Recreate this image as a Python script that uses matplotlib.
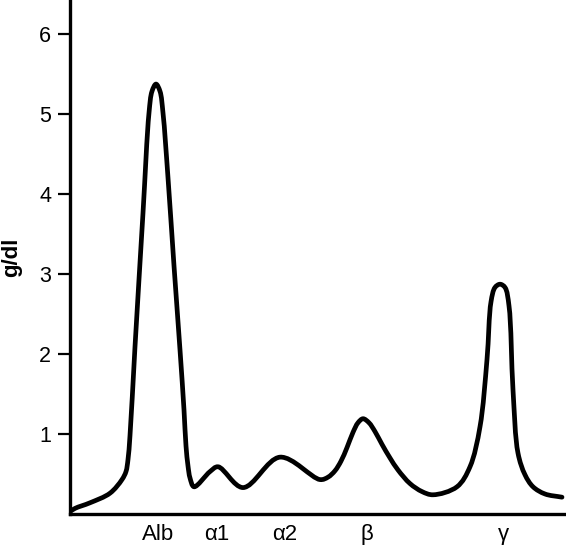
import numpy as np
import matplotlib
matplotlib.use("Agg")
import matplotlib.pyplot as plt
from matplotlib.path import Path
from matplotlib.patches import PathPatch

plt.rcParams['font.family'] = ['Liberation Sans', 'DejaVu Sans']

# Densitometer trace of serum protein electrophoresis
migration = [0, 5, 20, 40, 52, 56, 58, 60, 65, 73, 79, 82, 86, 90, 93,
             98, 104, 110, 114, 116, 118, 120, 124,
             140, 148, 173, 210, 250, 258, 265, 271, 277, 283, 288, 293, 299,
             305, 312, 320, 328, 340, 352, 363, 387, 400, 410, 417, 421,
             425, 430, 435, 439, 443, 448, 455, 463, 475, 492]
conc = [0.03, 0.07, 0.14, 0.26, 0.43, 0.53, 0.68, 0.98, 2.09, 3.76, 5.01,
        5.28, 5.37, 5.28, 5.01, 4.2, 3.1, 2.05, 1.3, 0.85, 0.6, 0.45, 0.34,
        0.53, 0.59, 0.33, 0.71, 0.43, 0.46, 0.54, 0.66, 0.83, 1.02, 1.14,
        1.19, 1.14, 1.03, 0.87, 0.70, 0.55, 0.38, 0.28, 0.24, 0.34, 0.59,
        1.09, 1.93, 2.65, 2.83, 2.87, 2.83, 2.6, 1.55, 0.76, 0.49, 0.34,
        0.25, 0.21]

fraction_names = ['Alb', '\u03b11', '\u03b12', '\u03b2', '\u03b3']
fraction_pos = [88, 147, 215, 297, 433]
y_ticks = [1, 2, 3, 4, 5, 6]

YSCALE = 80.0  # px per g/dl, used only to shape the spline evenly


def smooth_path(xs, ys, alpha=0.5):
    # centripetal Catmull-Rom through the read points, as cubic Bezier pieces
    pts = np.column_stack([xs, np.asarray(ys) * YSCALE]).astype(float)
    ext = np.vstack([2 * pts[0] - pts[1], pts, 2 * pts[-1] - pts[-2]])
    verts = [pts[0]]
    codes = [Path.MOVETO]
    for i in range(1, len(ext) - 2):
        p0, p1, p2, p3 = ext[i - 1], ext[i], ext[i + 1], ext[i + 2]
        d1 = np.linalg.norm(p1 - p0) ** alpha
        d2 = np.linalg.norm(p2 - p1) ** alpha
        d3 = np.linalg.norm(p3 - p2) ** alpha
        b1 = (d1 ** 2 * p2 - d2 ** 2 * p0 + (2 * d1 ** 2 + 3 * d1 * d2 + d2 ** 2) * p1) / (3 * d1 * (d1 + d2))
        b2 = (d3 ** 2 * p1 - d2 ** 2 * p3 + (2 * d3 ** 2 + 3 * d3 * d2 + d2 ** 2) * p2) / (3 * d3 * (d3 + d2))
        verts += [b1, b2, p2]
        codes += [Path.CURVE4] * 3
    verts = np.array(verts)
    verts[:, 1] /= YSCALE
    return Path(verts, codes)


fig = plt.figure(figsize=(5.66, 5.49), dpi=100)
ax = fig.add_axes([70 / 566, 35 / 549, 496 / 566, 514 / 549])

ax.add_patch(PathPatch(smooth_path(migration, conc), fill=False,
                       lw=3.4, edgecolor='black', capstyle='round',
                       joinstyle='round'))

ax.set_xlim(0, 496)
ax.set_ylim(0, 6.42)

for side in ['top', 'right']:
    ax.spines[side].set_visible(False)
for side in ['left', 'bottom']:
    ax.spines[side].set_linewidth(2.4)

ax.set_yticks(y_ticks)
ax.tick_params(axis='y', length=8.5, width=1.6, pad=5, labelsize=15.5)
ax.set_xticks(fraction_pos)
ax.set_xticklabels(fraction_names)
ax.tick_params(axis='x', length=0, pad=7, labelsize=16)

ax.set_ylabel('g/dl', fontsize=16, fontweight='bold', labelpad=12)

fig.savefig('out.png', dpi=100)
